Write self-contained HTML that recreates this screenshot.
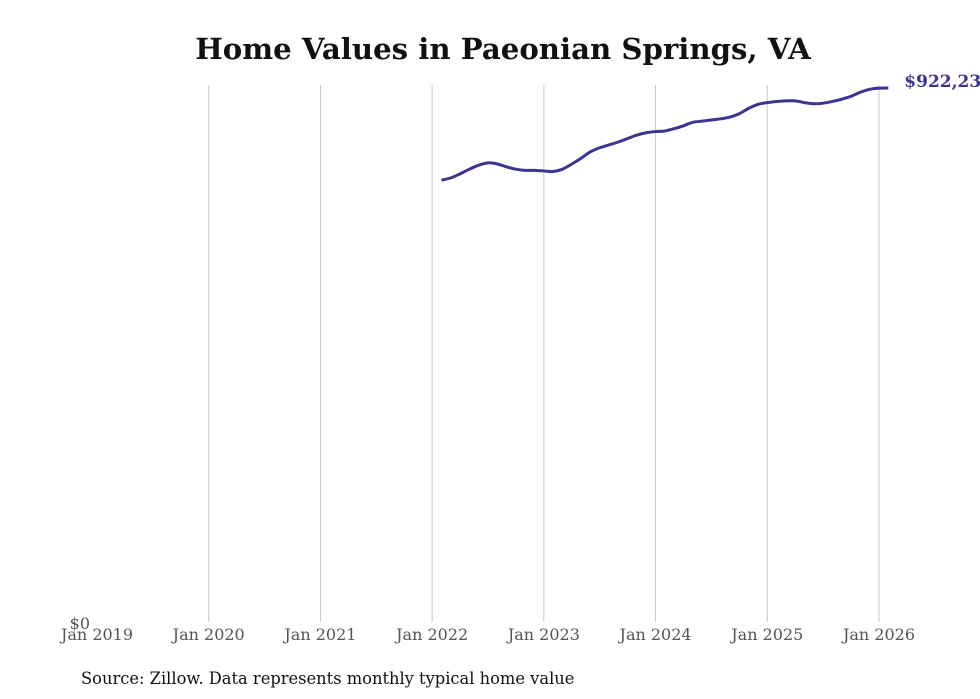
<!DOCTYPE html>
<html><head><meta charset="utf-8"><style>
body{margin:0;background:#fff;width:980px;height:699px;overflow:hidden}
svg{display:block;font-family:"DejaVu Serif","Liberation Serif",serif}
</style></head><body>
<svg id="chart" width="980" height="699">
<text x="503" y="59" text-anchor="middle" font-size="29.2" font-weight="bold" fill="#111">Home Values in Paeonian Springs, VA</text>
<g id="grid"></g><g id="xticks"></g><g id="series"></g>
<text x="81" y="684" font-size="16.3" fill="#111">Source: Zillow. Data represents monthly typical home value</text>
</svg>
<script>
const tickLabels=["Jan 2019","Jan 2020","Jan 2021","Jan 2022","Jan 2023","Jan 2024","Jan 2025","Jan 2026"];
const startMonth=37; // months since Jan 2019 (Feb 2022)
const values=[763000,767000,774000,782000,789000,793000,791000,786000,782000,780000,780000,779000,778000,782000,791000,801000,812000,819000,824000,829000,835000,841000,845000,847000,848000,852000,857000,863000,865000,867000,869000,872000,878000,887000,894000,897000,899000,900000,900000,897000,895000,896000,899000,903000,908000,915000,920000,922000,922231];
const yMax=922231;
const NS="http://www.w3.org/2000/svg";
const x=m=>97+m*(879-97)/84;
const y=v=>622-v*(622-88)/yMax;
const grid=document.getElementById('grid'),xt=document.getElementById('xticks'),ser=document.getElementById('series');
tickLabels.forEach((t,i)=>{
  const px=x(i*12);
  if(i>0){const l=document.createElementNS(NS,'line');
  l.setAttribute('x1',px);l.setAttribute('x2',px);l.setAttribute('y1',85);l.setAttribute('y2',622);
  l.setAttribute('stroke','#c8c8c8');l.setAttribute('stroke-width','1');
  
  
  grid.appendChild(l);}
  const tx=document.createElementNS(NS,'text');
  tx.setAttribute('x',px);tx.setAttribute('y',640);tx.setAttribute('text-anchor','middle');
  tx.setAttribute('font-size','16');tx.setAttribute('fill','#555');tx.textContent=t;
  
  
  xt.appendChild(tx);
});
const z=document.createElementNS(NS,'text');
z.setAttribute('x',90);z.setAttribute('y',629);z.setAttribute('text-anchor','end');z.setAttribute('font-size','16');z.setAttribute('fill','#555');z.textContent='$0';


xt.appendChild(z);
const pts=values.map((v,i)=>[x(startMonth+i),y(v)]);
let d='M'+pts[0][0]+','+pts[0][1];
for(let i=0;i<pts.length-1;i++){
  const p0=pts[Math.max(0,i-1)],p1=pts[i],p2=pts[i+1],p3=pts[Math.min(pts.length-1,i+2)];
  const c1=[p1[0]+(p2[0]-p0[0])/6,p1[1]+(p2[1]-p0[1])/6],c2=[p2[0]-(p3[0]-p1[0])/6,p2[1]-(p3[1]-p1[1])/6];
  d+=' C'+c1+' '+c2+' '+p2;
}
const path=document.createElementNS(NS,'path');
path.setAttribute('d',d);path.setAttribute('fill','none');path.setAttribute('stroke','#3b3491');path.setAttribute('stroke-width','3');


ser.appendChild(path);
const last=pts[pts.length-1];
const lb=document.createElementNS(NS,'text');
lb.setAttribute('x',last[0]+16);lb.setAttribute('y',last[1]-1);lb.setAttribute('font-size','17');lb.setAttribute('font-weight','bold');lb.setAttribute('fill','#3b3491');
lb.textContent='$'+values[values.length-1].toLocaleString('en-US');


ser.appendChild(lb);
</script>
</body></html>
